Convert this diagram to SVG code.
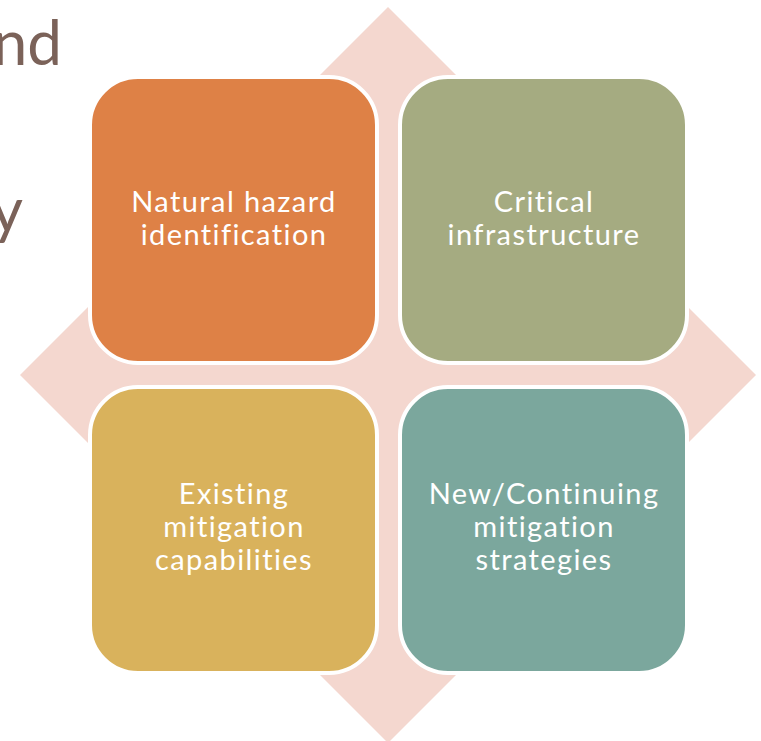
<svg xmlns="http://www.w3.org/2000/svg" width="761" height="741" viewBox="0 0 761 741">
<style>
.bg{fill:#fff}
.box{stroke:#fff;stroke-width:4}
.lbl{font-family:Lato,"Liberation Sans",sans-serif;font-size:29px;letter-spacing:1.4px;font-variant-ligatures:none;fill:#fff;text-anchor:middle}
.title{font-family:Lato,"Liberation Sans",sans-serif;font-size:62px;fill:#7B6259;text-anchor:end}
</style>
<rect class="bg" width="761" height="741"/>
<g id="title-fragments">
<text class="title" x="62" y="65">nd</text>
<text class="title" x="23" y="232">y</text>
</g>
<g id="diamond">
<polygon points="388,7 756,375 388,743 20,375" fill="#F4D7CF"/>
</g>
<g id="connectors"></g>
<g id="node-hazard">
<rect class="box" x="90" y="77" width="287" height="286" rx="48" fill="#DE8146"/>
<text class="lbl" x="234" y="212">Natural hazard</text>
<text class="lbl" x="234" y="245">identification</text>
</g>
<g id="node-infra">
<rect class="box" x="400" y="77" width="287" height="286" rx="48" fill="#A5AB81"/>
<text class="lbl" x="544" y="212">Critical</text>
<text class="lbl" x="544" y="245">infrastructure</text>
</g>
<g id="node-existing">
<rect class="box" x="90" y="387" width="287" height="286" rx="48" fill="#D9B25C"/>
<text class="lbl" x="234" y="504">Existing</text>
<text class="lbl" x="234" y="537">mitigation</text>
<text class="lbl" x="234" y="570">capabilities</text>
</g>
<g id="node-new">
<rect class="box" x="400" y="387" width="287" height="286" rx="48" fill="#7BA79D"/>
<text class="lbl" x="544" y="504">New/Continuing</text>
<text class="lbl" x="544" y="537">mitigation</text>
<text class="lbl" x="544" y="570">strategies</text>
</g>
</svg>
